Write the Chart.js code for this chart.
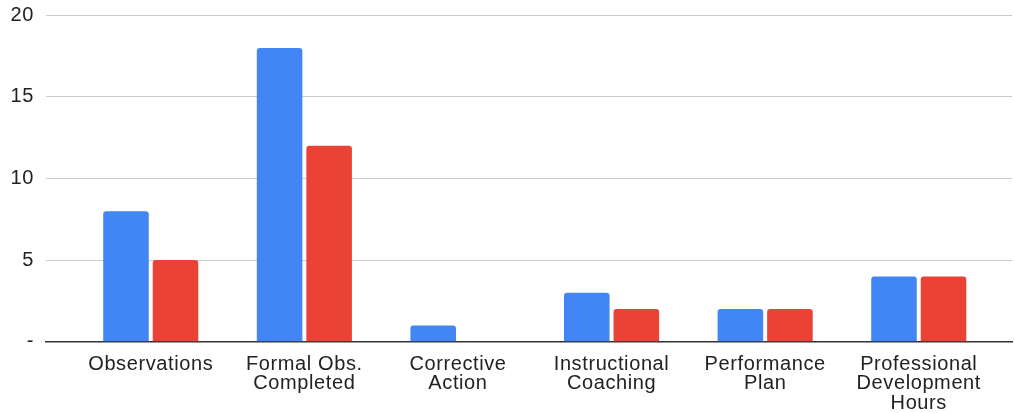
<!DOCTYPE html>
<html>
<head>
<meta charset="utf-8">
<script src="https://cdn.jsdelivr.net/npm/chart.js@4/dist/chart.umd.min.js"></script>
<style>
  html, body { margin: 0; padding: 0; background: #fff; }
</style>
</head>
<body>
<canvas id="obsChart" width="1015" height="413"></canvas>
<script>
// categories (multi-line labels) and the two series
const categories = [
    ['Observations'],
    ['Formal Obs.', 'Completed'],
    ['Corrective', 'Action'],
    ['Instructional', 'Coaching'],
    ['Performance', 'Plan'],
    ['Professional', 'Development', 'Hours']
];
const blueValues = [8, 18, 1, 3, 2, 4];
const redValues = [5, 12, 0, 2, 2, 4];
const yTicks = [0, 5, 10, 15, 20];

const FONT = "'Liberation Sans', Arial, sans-serif";
const TEXT_COLOR = '#222';

// bars sit on a linear x scale so the groups can be placed off the plot edges
const toPoints = values => values.map((v, i) => ({ x: i, y: v }));

// slightly wider lettering on axis text
const letterSpacingPlugin = {
    id: 'letterSpacing',
    beforeDraw(chart) {
        chart.ctx.letterSpacing = '0.6px';
    }
};

// drop the label overflow padding so layout.padding is exact
const noOverflow = scale => {
    scale.paddingTop = 0;
    scale.paddingBottom = 0;
    scale.paddingLeft = 0;
    scale.paddingRight = 0;
};

new Chart(document.getElementById('obsChart'), {
    type: 'bar',
    data: {
        datasets: [
            {
                label: 'Blue',
                data: toPoints(blueValues),
                backgroundColor: '#4285F4',
                borderRadius: 3,
                borderSkipped: 'start'
            },
            {
                label: 'Red',
                data: toPoints(redValues),
                backgroundColor: '#EA4335',
                borderRadius: 3,
                borderSkipped: 'start'
            }
        ]
    },
    options: {
        responsive: false,
        animation: false,
        layout: { padding: { top: 15.3, right: 3, left: 0, bottom: 0 } },
        datasets: {
            bar: {
                categoryPercentage: 0.645,
                barPercentage: 0.92
            }
        },
        plugins: {
            legend: { display: false },
            title: { display: false },
            tooltip: { enabled: false }
        },
        scales: {
            x: {
                type: 'linear',
                offset: false,
                min: -0.682,
                max: 5.607,
                afterBuildTicks: scale => {
                    scale.ticks = categories.map((c, i) => ({ value: i }));
                },
                afterFit: scale => {
                    scale.height = 71.3;
                    noOverflow(scale);
                },
                grid: { display: false, drawTicks: false },
                border: { display: true, color: '#333', width: 1.6 },
                ticks: {
                    autoSkip: false,
                    maxRotation: 0,
                    padding: 13,
                    color: TEXT_COLOR,
                    font: { family: FONT, size: 20, lineHeight: '19.5px' },
                    callback: value => categories[value]
                }
            },
            y: {
                min: 0,
                max: 20,
                afterBuildTicks: scale => {
                    scale.ticks = yTicks.map(v => ({ value: v }));
                },
                afterFit: scale => {
                    scale.width = 46;
                    noOverflow(scale);
                },
                grid: {
                    drawTicks: false,
                    lineWidth: 1,
                    color: ctx => (ctx.tick && ctx.tick.value === 0) ? 'rgba(0,0,0,0)' : '#cccccc'
                },
                border: { display: false },
                ticks: {
                    padding: 12,
                    color: TEXT_COLOR,
                    font: { family: FONT, size: 20 },
                    callback: value => value === 0 ? '-' : value
                }
            }
        }
    },
    plugins: [letterSpacingPlugin]
});
</script>
</body>
</html>
